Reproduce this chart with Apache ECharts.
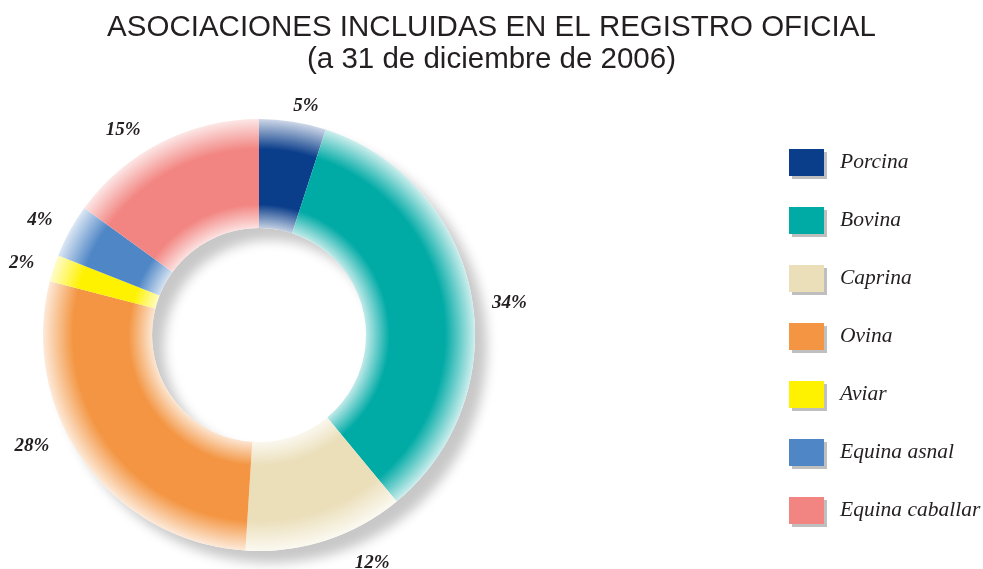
<!DOCTYPE html>
<html>
<head>
<meta charset="utf-8">
<script src="https://cdn.jsdelivr.net/npm/echarts@6/dist/echarts.min.js"></script>
<style>
  html, body { margin: 0; padding: 0; background: #fff; }
  #main { width: 983px; height: 569px; }
</style>
</head>
<body>
<div id="main"></div>
<script>
// datos
var categorias = ['Porcina', 'Bovina', 'Caprina', 'Ovina', 'Aviar', 'Equina asnal', 'Equina caballar'];
var porcentajes = [5, 34, 12, 28, 2, 4, 15];

// colores y pequeños ajustes de posición de las etiquetas
var colores = ['#0a3d8a', '#00aaa5', '#ebdfba', '#f39542', '#fff200', '#4e86c6', '#f28581'];
var ajusteEtiquetas = [[-7, 0], [0, 12], [19, 7], [-17, -25], [1, 0], [2, -3], [-8, 2]];

var cx = 259, cy = 335, rIn = 107, rOut = 216;

function mezcla(hex, f) {
    var n = parseInt(hex.slice(1), 16);
    var r = (n >> 16) & 255, g = (n >> 8) & 255, b = n & 255;
    r = Math.round(r + (255 - r) * f);
    g = Math.round(g + (255 - g) * f);
    b = Math.round(b + (255 - b) * f);
    return 'rgb(' + r + ',' + g + ',' + b + ')';
}

function degradado(hex) {
    var k = rIn / rOut;
    return {
        type: 'radial', x: cx, y: cy, r: rOut, global: true,
        colorStops: [
            { offset: 0, color: mezcla(hex, 0.8) },
            { offset: k, color: mezcla(hex, 0.75) },
            { offset: k + 0.11, color: hex },
            { offset: 0.86, color: hex },
            { offset: 1, color: mezcla(hex, 0.8) }
        ]
    };
}

var datos = [];
var leyenda = [];
for (var i = 0; i < categorias.length; i++) {
    datos.push({
        name: categorias[i],
        value: porcentajes[i],
        itemStyle: { color: degradado(colores[i]) },
        label: { offset: ajusteEtiquetas[i] }
    });
    leyenda.push({ name: categorias[i], itemStyle: { color: colores[i] } });
}

var option = {
    animation: false,
    title: {
        text: 'ASOCIACIONES INCLUIDAS EN EL REGISTRO OFICIAL\n(a 31 de diciembre de 2006)',
        left: 'center',
        top: 7,
        textStyle: {
            fontFamily: '"Liberation Sans Narrow", "Liberation Sans", Arial, sans-serif',
            fontWeight: 'normal',
            fontSize: 29.5,
            lineHeight: 32,
            color: '#231f20'
        }
    },
    legend: {
        orient: 'vertical',
        left: 784,
        top: 144,
        itemWidth: 35,
        itemHeight: 27,
        itemGap: 31,
        icon: 'rect',
        selectedMode: false,
        data: leyenda,
        itemStyle: {
            shadowColor: 'rgba(0,0,0,0.25)',
            shadowOffsetX: 3,
            shadowOffsetY: 3,
            shadowBlur: 0
        },
        textStyle: {
            fontFamily: '"Liberation Serif", "DejaVu Serif", serif',
            fontStyle: 'italic',
            fontSize: 21.5,
            color: '#231f20',
            padding: [0, 0, 0, 11]
        }
    },
    series: [
        {
            name: 'sombra',
            type: 'pie',
            silent: true,
            center: [cx, cy],
            radius: [rIn, rOut],
            startAngle: 90,
            label: { show: false },
            labelLine: { show: false },
            itemStyle: {
                color: '#ffffff',
                shadowColor: 'rgba(0,0,0,0.22)',
                shadowBlur: 12,
                shadowOffsetX: 12,
                shadowOffsetY: 12
            },
            data: [{ name: 'sombra', value: 1 }]
        },
        {
            name: 'Asociaciones',
            type: 'pie',
            center: [cx, cy],
            radius: [rIn, rOut],
            startAngle: 90,
            clockwise: true,
            avoidLabelOverlap: false,
            label: {
                show: true,
                position: 'outside',
                formatter: '{c}%',
                fontFamily: '"Liberation Serif", "DejaVu Serif", serif',
                fontStyle: 'italic',
                fontWeight: 'bold',
                fontSize: 19,
                color: '#231f20'
            },
            labelLine: { show: false, length: 16, length2: 0 },
            data: datos
        }
    ]
};

var chart = echarts.init(document.getElementById('main'));
chart.setOption(option);
</script>
</body>
</html>
